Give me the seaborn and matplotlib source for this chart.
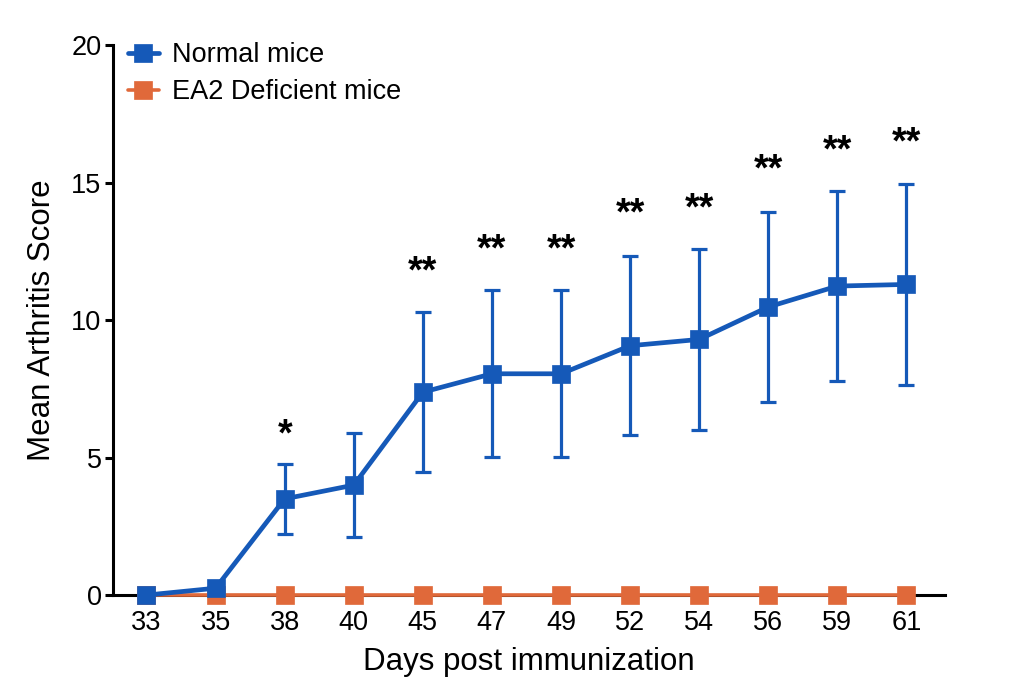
import seaborn as sns
import pandas as pd
import matplotlib
matplotlib.use("Agg")
import matplotlib.pyplot as plt

# values
days = ["33", "35", "38", "40", "45", "47", "49", "52", "54", "56", "59", "61"]
normal_mean = [0.0, 0.25, 3.5, 4.0, 7.38, 8.05, 8.05, 9.07, 9.3, 10.48, 11.24, 11.3]
normal_err = [0.0, 0.0, 1.27, 1.9, 2.92, 3.04, 3.04, 3.25, 3.3, 3.47, 3.46, 3.67]
deficient_mean = [0.0] * 12

star_days = ["38", "45", "47", "49", "52", "54", "56", "59", "61"]
star_text = ["*", "**", "**", "**", "**", "**", "**", "**", "**"]
star_y = [5.82, 11.73, 12.53, 12.53, 13.83, 14.03, 15.43, 16.13, 16.43]

blue = "#1559b8"
orange = "#e0693a"

sns.set_style("ticks")
plt.rcParams["font.family"] = ["Liberation Sans", "DejaVu Sans"]
for k in ["text.color", "axes.labelcolor", "xtick.color", "ytick.color", "axes.edgecolor"]:
    plt.rcParams[k] = "black"

pos = list(range(len(days)))
df = pd.DataFrame({"pos": pos, "normal": normal_mean, "err": normal_err,
                   "deficient": deficient_mean})

fig, ax = plt.subplots(figsize=(10.24, 6.96), dpi=100)
fig.subplots_adjust(left=0.110, right=0.923, bottom=0.145, top=0.935)

sns.lineplot(data=df, x="pos", y="deficient", ax=ax, color=orange, lw=2.6,
             marker="s", markersize=13, mec=orange, mew=0.5,
             label="EA2 Deficient mice", clip_on=False, zorder=3)

ax.errorbar(df["pos"], df["normal"], yerr=df["err"], fmt="none", ecolor=blue,
            elinewidth=2.3, capsize=6, capthick=2.3, zorder=4, clip_on=False)

sns.lineplot(data=df, x="pos", y="normal", ax=ax, color=blue, lw=3.4,
             marker="s", markersize=12.5, mec=blue, mew=0.5,
             label="Normal mice", clip_on=False, zorder=5)

# significance marks
for d, t, y in zip(star_days, star_text, star_y):
    ax.text(days.index(d), y, t, ha="center", va="center", fontsize=27,
            fontweight="bold")

ax.set_xlim(-0.49, 11.56)
ax.set_ylim(0, 20)
ax.set_yticks([0, 5, 10, 15, 20])
ax.set_xticks(pos)
ax.set_xticklabels(days)
ax.tick_params(axis="y", length=6, width=2.2, labelsize=19.5, pad=2)
ax.tick_params(axis="x", length=0, labelsize=19.5, pad=11)
for s in ["top", "right"]:
    ax.spines[s].set_visible(False)
for s in ["left", "bottom"]:
    ax.spines[s].set_linewidth(2.2)

ax.set_xlabel("Days post immunization", fontsize=22.5, labelpad=8)
ax.set_ylabel("Mean Arthritis Score", fontsize=22.5, labelpad=10)

h, l = ax.get_legend_handles_labels()
ax.legend(h[::-1], l[::-1], loc="upper left", frameon=False, fontsize=19.5,
          handlelength=1.15, handletextpad=0.5, labelspacing=0.4,
          borderaxespad=0.0, bbox_to_anchor=(0.005, 1.025))

fig.savefig("out.png", dpi=100)
